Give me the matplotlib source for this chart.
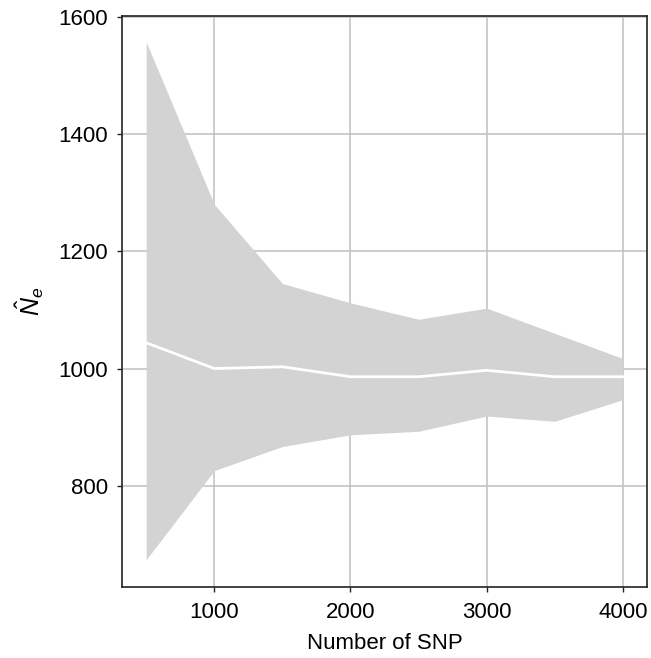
import numpy as np
import matplotlib.pyplot as plt

plt.rcParams['font.family'] = ['Liberation Sans', 'DejaVu Sans']
plt.rcParams['mathtext.fontset'] = 'custom'
plt.rcParams['mathtext.rm'] = 'Liberation Sans'
plt.rcParams['mathtext.it'] = 'Liberation Sans:italic'

n_snp = [500, 1000, 1500, 2000, 2500, 3000, 3500, 4000]
ne_upper = [1557, 1280, 1145, 1112, 1084, 1103, 1060, 1017]
ne_lower = [674, 826, 867, 887, 893, 919, 910, 947]
ne_median = [1044, 1000, 1003, 986, 986, 997, 986, 986]

fig = plt.figure(figsize=(6.51, 6.58), dpi=100)
ax = fig.add_axes([0.188, 0.1084, 0.8054, 0.868])

ax.grid(True, color='#c0c0c0', linewidth=1.1)
ax.set_axisbelow(True)
ax.fill_between(n_snp, ne_lower, ne_upper, color='#d3d3d3', linewidth=0, zorder=2)
ax.plot(n_snp, ne_median, color='white', linewidth=2, zorder=3)

ax.set_xlim(325, 4175)
ax.set_ylim(628, 1602)
ax.set_xticks([1000, 2000, 3000, 4000])
ax.set_yticks([800, 1000, 1200, 1400, 1600])

for s in ax.spines.values():
    s.set_color('#222222')
    s.set_linewidth(1.2)
ax.tick_params(labelsize=16, length=3.6, width=1, color='#222222', labelcolor='black')
ax.tick_params(axis='x', pad=7.5)
ax.tick_params(axis='y', pad=6.5)

ax.set_xlabel('Number of SNP', fontsize=16, labelpad=7)
ax.set_ylabel(r'$\hat{N}_e$', fontsize=18, labelpad=9)

fig.savefig('out.png', dpi=100)
